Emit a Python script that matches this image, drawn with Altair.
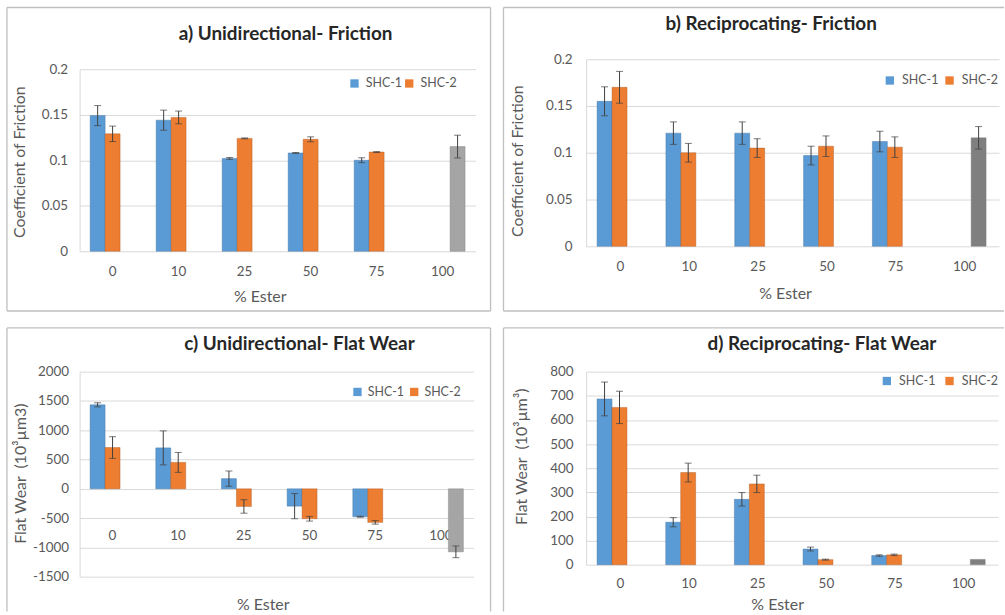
import altair as alt
import pandas as pd

# Categories and series
ester_pct = ["0", "10", "25", "50", "75", "100"]
series = ["SHC-1", "SHC-2", "Ester"]

# a) Unidirectional friction (coefficient of friction, mean and +/- error)
a_shc1 = [0.149, 0.144, 0.102, 0.108, 0.100]
a_shc1_err = [0.011, 0.011, 0.001, 0.0005, 0.0027]
a_shc2 = [0.129, 0.147, 0.124, 0.123, 0.109]
a_shc2_err = [0.0085, 0.007, 0.0005, 0.0027, 0.0005]
a_ester, a_ester_err = 0.115, 0.0125

# b) Reciprocating friction
b_shc1 = [0.155, 0.121, 0.121, 0.097, 0.112]
b_shc1_err = [0.0155, 0.012, 0.012, 0.010, 0.011]
b_shc2 = [0.170, 0.100, 0.105, 0.107, 0.106]
b_shc2_err = [0.017, 0.010, 0.010, 0.011, 0.011]
b_ester, b_ester_err = 0.116, 0.012

# c) Unidirectional flat wear (10^3 um^3)
c_shc1 = [1434, 699, 174, -296, -477]
c_shc1_err = [35, 290, 130, 215, 8]
c_shc2 = [705, 451, -301, -511, -573]
c_shc2_err = [185, 170, 115, 40, 30]
c_ester, c_ester_err = -1076, 100

# d) Reciprocating flat wear (10^3 um^3)
d_shc1 = [687, 176, 271, 65, 38]
d_shc1_err = [70, 19, 28, 8, 3]
d_shc2 = [652, 382, 335, 21, 41]
d_shc2_err = [67, 39, 36, 2, 3]
d_ester, d_ester_err = 22, None

friction_ticks = [0, 0.05, 0.1, 0.15, 0.2]
uni_wear_ticks = [-1500, -1000, -500, 0, 500, 1000, 1500, 2000]
rec_wear_ticks = [0, 100, 200, 300, 400, 500, 600, 700, 800]

BLUE = "#5B9BD5"
ORANGE = "#ED7D31"
LIGHT_GREY = "#A5A5A5"
DARK_GREY = "#7F7F7F"
TEXT = "#595959"
GRID = "#D9D9D9"
FRAME = "#BFBFBF"
FONT = "Lato"
NBSP = "\u00a0"


def build_table(shc1, e1, shc2, e2, ester, ester_err):
    rows = []
    for i, c in enumerate(ester_pct[:5]):
        rows.append({"cat": c, "series": "SHC-1", "value": shc1[i], "err": e1[i]})
        rows.append({"cat": c, "series": "SHC-2", "value": shc2[i], "err": e2[i]})
    rows.append({"cat": "100", "series": "Ester", "value": ester, "err": ester_err})
    df = pd.DataFrame(rows)
    df["err"] = df["err"].astype(float)
    df["lo"] = df["value"] - df["err"]
    df["hi"] = df["value"] + df["err"]
    return df


def panel(df, p):
    one = pd.DataFrame({"k": [0]})
    w, h = p["w"], p["h"]

    x_axis = alt.Axis(
        title="% Ester", labelAngle=0, ticks=False, domain=False, grid=False,
        labelPadding=p["xlab_pad"], labelBaseline="middle", labelFontSize=13.5,
        labelColor=TEXT, titleFontSize=16, titleColor=TEXT, titleFontWeight="normal",
        titleX=p["xt_x"], titleY=p["xt_y"], titleBaseline="middle", titleAlign="center",
    )
    y_axis = alt.Axis(
        title=p["ytitle"], values=p["ticks"], labelExpr="datum.value + ''",
        ticks=False, domain=True, domainColor=GRID, gridColor=GRID, grid=True,
        labelPadding=p["ylab_pad"], labelFontSize=13.5, labelColor=TEXT,
        titleFontSize=16, titleColor=TEXT, titleFontWeight="normal",
        titleX=p["yt_x"], titleY=p["yt_y"], titleAngle=270,
        titleBaseline="middle", titleAlign="center",
    )
    x_scale = alt.Scale(paddingInner=0.32, paddingOuter=0.16)
    y_scale = alt.Scale(domain=p["domain"], nice=False, range=[h, p["top"]])
    xo = alt.XOffset("series:N", scale=alt.Scale(domain=series))

    def X():
        return alt.X("cat:N", sort=ester_pct, scale=x_scale, axis=x_axis)

    base = alt.Chart(df)
    bars = base.mark_bar(strokeWidth=0.7, strokeOpacity=0.6).encode(
        x=X(), xOffset=xo,
        y=alt.Y("value:Q", scale=y_scale, axis=y_axis),
        color=alt.Color(
            "series:N",
            scale=alt.Scale(domain=series, range=[BLUE, ORANGE, p["grey"]]),
            legend=alt.Legend(
                values=["SHC-1", "SHC-2"], title=None, orient="none",
                legendX=p["lx"], legendY=p["ly"], direction="horizontal",
                symbolType="square", symbolSize=70, symbolStrokeWidth=0,
                labelFontSize=12.5, labelColor=TEXT, labelOffset=p["loff"],
                columnPadding=p["colpad"], padding=0,
            ),
        ),
        stroke=alt.Stroke(
            "series:N",
            scale=alt.Scale(domain=series, range=["#41719C", "#AE5A21", "#7F7F7F"]),
            legend=None,
        ),
    )
    with_err = base.transform_filter("isValid(datum.err)")
    stems = with_err.mark_rule(color="#404040", strokeWidth=1).encode(
        x=X(), xOffset=xo,
        y=alt.Y("lo:Q", scale=y_scale, axis=y_axis), y2="hi:Q",
    )
    cap_lo = with_err.mark_tick(color="#404040", thickness=1, size=7).encode(
        x=X(), xOffset=xo, y=alt.Y("lo:Q", scale=y_scale, axis=y_axis),
    )
    cap_hi = with_err.mark_tick(color="#404040", thickness=1, size=7).encode(
        x=X(), xOffset=xo, y=alt.Y("hi:Q", scale=y_scale, axis=y_axis),
    )

    title = alt.Chart(pd.DataFrame({"t": [p["title"]]})).mark_text(
        fontSize=19, fontWeight="bold", color="#262626", align="center", baseline="middle",
    ).encode(text="t:N", x=alt.value(p["tx"]), y=alt.value(p["ty"]))

    # panel frame drawn as separate edges
    l, r, t, b = p["frame"]
    edges = []
    if "top" in p["sides"]:
        edges.append((l, r, t, t))
    if "bottom" in p["sides"]:
        edges.append((l, r, b, b))
    if "left" in p["sides"]:
        edges.append((l, l, t, b))
    if "right" in p["sides"]:
        edges.append((r, r, t, b))
    frame_layers = [
        alt.Chart(one).mark_rule(color=FRAME, strokeWidth=1.3).encode(
            x=alt.value(x1), x2=alt.value(x2), y=alt.value(y1), y2=alt.value(y2)
        )
        for (x1, x2, y1, y2) in edges
    ]

    return alt.layer(bars, stems, cap_lo, cap_hi, title, *frame_layers).properties(
        width=w, height=h
    )


# top row panels share the same origin; panel a's value range starts 10px lower
pa = panel(
    build_table(a_shc1, a_shc1_err, a_shc2, a_shc2_err, a_ester, a_ester_err),
    dict(w=398, h=193, top=10, domain=[0, 0.2], ticks=friction_ticks, grey=LIGHT_GREY,
         ytitle="Coefficient of Friction", title="a) Unidirectional- Friction",
         xlab_pad=20, ylab_pad=12, xt_x=181, xt_y=45, yt_x=-60, yt_y=103,
         lx=270, ly=18, loff=5, colpad=-2, tx=207, ty=-25,
         frame=(-73, 413, -52, 253), sides=("top", "bottom", "left", "right")),
)
pb = panel(
    build_table(b_shc1, b_shc1_err, b_shc2, b_shc2_err, b_ester, b_ester_err),
    dict(w=415, h=188, top=0, domain=[0, 0.2], ticks=friction_ticks, grey=DARK_GREY,
         ytitle="Coefficient of Friction", title="b) Reciprocating- Friction",
         xlab_pad=20, ylab_pad=14, xt_x=200, xt_y=47, yt_x=-69, yt_y=102,
         lx=299, ly=15, loff=6, colpad=4, tx=186, ty=-35,
         frame=(-83, 420, -52, 253), sides=("top", "bottom", "left")),
)
pc = panel(
    build_table(c_shc1, c_shc1_err, c_shc2, c_shc2_err, c_ester, c_ester_err),
    dict(w=396, h=206, top=0, domain=[-1500, 2000], ticks=uni_wear_ticks, grey=LIGHT_GREY,
         ytitle=f"Flat Wear{NBSP}{NBSP}(10³µm3)", title="c) Unidirectional- Flat Wear",
         xlab_pad=-41, ylab_pad=11, xt_x=184, xt_y=28, yt_x=-59, yt_y=102,
         lx=273, ly=14, loff=4, colpad=3, tx=221, ty=-28,
         frame=(-73, 413, -44, 241), sides=("top", "left", "right")),
)
pd_ = panel(
    build_table(d_shc1, d_shc1_err, d_shc2, d_shc2_err, d_ester, d_ester_err),
    dict(w=414, h=194, top=0, domain=[0, 800], ticks=rec_wear_ticks, grey=DARK_GREY,
         ytitle=f"Flat Wear{NBSP}{NBSP}(10³µm³)", title="d) Reciprocating- Flat Wear",
         xlab_pad=19, ylab_pad=13, xt_x=192, xt_y=40, yt_x=-65, yt_y=85,
         lx=296, ly=3, loff=6, colpad=7, tx=237, ty=-28,
         frame=(-83, 420, -44, 241), sides=("top", "left")),
)

chart = alt.concat(
    pa, pb, pc, pd_,
    columns=2,
    align="none",
    spacing={"row": 15, "column": 11},
).resolve_scale(
    color="independent", stroke="independent", x="independent", y="independent"
).properties(
    padding={"left": 6, "top": 5, "right": 0, "bottom": 0},
    background="white",
).configure(font=FONT).configure_view(strokeWidth=0)

chart.save("out.html", embed_options={"renderer": "svg", "actions": False})
